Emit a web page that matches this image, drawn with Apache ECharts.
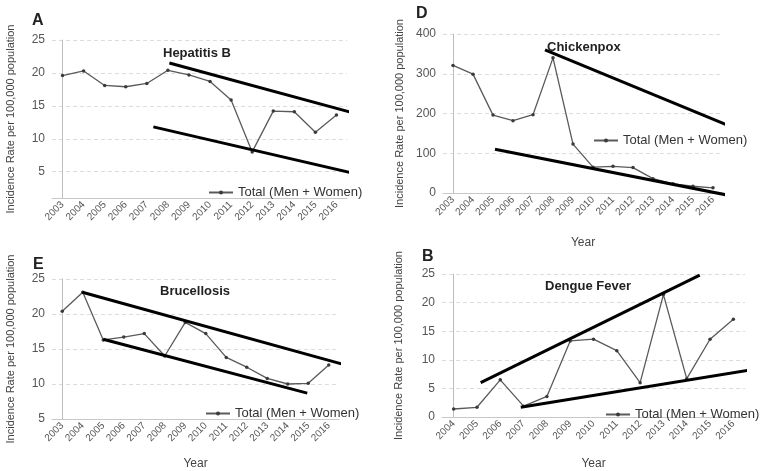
<!DOCTYPE html>
<html><head><meta charset="utf-8">
<script src="https://cdn.jsdelivr.net/npm/echarts@6/dist/echarts.min.js"></script>
<style>html,body{margin:0;padding:0;background:#fff}#c{width:780px;height:471px}</style>
</head><body><div id="c"></div>
<script>
const yearsAll = ['2003','2004','2005','2006','2007','2008','2009','2010','2011','2012','2013','2014','2015','2016'];
const yearsDengue = ['2004','2005','2006','2007','2008','2009','2010','2011','2012','2013','2014','2015','2016'];
const hepatitisB = [19.6,20.3,18.1,17.9,18.4,20.4,19.7,18.7,15.9,8.0,14.2,14.1,11.0,13.6];
const chickenpox = [321,299,196,182,197,340,123,65,67,64,36,23,17,13];
const brucellosis = [20.4,23.1,16.3,16.7,17.2,14.0,18.8,17.2,13.8,12.4,10.8,10.0,10.1,12.7];
const dengue = [1.4,1.7,6.5,1.9,3.6,13.3,13.6,11.6,6.0,21.4,6.7,13.6,17.1];
// trend lines: [category index, value]
const trendAUpper = [[5.07,21.5],[14.64,13.2]];
const trendALower = [[4.31,11.8],[14.27,4.4]];
const trendDUpper = [[4.6,360],[15.7,130]];
const trendDLower = [[2.1,110],[14.45,-12.5]];
const trendEUpper = [[0.98,23.1],[14.34,12.3]];
const trendELower = [[2.0,16.4],[11.95,8.7]];
const trendBUpper = [[1.16,6.0],[10.56,24.8]];
const trendBLower = [[2.88,1.7],[13.9,9.0]];
const ticksA = [5,10,15,20,25];
const ticksD = [0,100,200,300,400];
const ticksE = [5,10,15,20,25];
const ticksB = [0,5,10,15,20,25];
const seriesName = 'Total (Men + Women)';

const FONT = 'Liberation Sans, Arial, sans-serif';
const chart = echarts.init(document.getElementById('c'));

const grids = [
  {left:52, width:295, top:40, height:158},
  {left:443, width:280, top:34, height:159},
  {left:52, width:287, top:279, height:146},
  {left:442, width:303, top:274, height:149}
];
const cats = [yearsAll, yearsAll, yearsAll, yearsDengue];
const yRanges = [[1,25,ticksA],[0,400,ticksD],[5,25,ticksE],[0,25,ticksB]];
const yearGap = [null, 44, 39, 41];
const vals = [hepatitisB, chickenpox, brucellosis, dengue];
const trends = [[trendAUpper,trendALower],[trendDUpper,trendDLower],[trendEUpper,trendELower],[trendBUpper,trendBLower]];

const xAxis = [], yAxis = [], series = [];
grids.forEach((g,i)=>{
  xAxis.push({
    type:'category', gridIndex:i, data:cats[i], boundaryGap:true,
    name: yearGap[i] ? 'Year' : '', nameLocation:'middle', nameGap: yearGap[i] || 0,
    nameTextStyle:{fontFamily:FONT, fontSize:12, color:'#444'},
    axisLine:{lineStyle:{color:'#c8c8c8', width:1}},
    axisTick:{alignWithLabel:true, length:3, lineStyle:{color:'#c8c8c8'}},
    axisLabel:{rotate:45, fontFamily:FONT, fontSize:10, color:'#555', margin:5, interval:0}
  });
});
grids.forEach((g,i)=>{
  const n = cats[i].length;
  xAxis.push({type:'value', gridIndex:i, min:-0.5, max:n-0.5, show:false, splitLine:{show:false}});
});
grids.forEach((g,i)=>{
  const r = yRanges[i];
  yAxis.push({
    type:'value', gridIndex:i, min:r[0], max:r[1],
    name:'Incidence Rate per 100,000 population', nameLocation:'middle', nameGap: i%2===0 ? 36 : 38,
    nameTextStyle:{fontFamily:FONT, fontSize:11, color:'#444'},
    axisLine:{show:true, lineStyle:{color:'#bdbdbd'}},
    axisTick:{show:false, customValues:r[2]},
    axisLabel:{fontFamily:FONT, fontSize:12, color:'#555', margin:7, customValues:r[2]},
    splitLine:{show:true, lineStyle:{color:'#dcdcdc', type:[4,3], width:1}}
  });
});
grids.forEach((g,i)=>{
  series.push({
    name:seriesName, type:'line', xAxisIndex:i, yAxisIndex:i, data:vals[i],
    symbol:'circle', symbolSize:3.5, itemStyle:{color:'#3a3a3a'},
    lineStyle:{color:'#5a5a5a', width:1.3}, z:3
  });
  trends[i].forEach((t,k)=>{
    series.push({
      name:'trend'+i+k, type:'line', xAxisIndex:4+i, yAxisIndex:i, data:t,
      symbol:'none', clip:false, lineStyle:{color:'#000', width:3}, z:4, silent:true
    });
  });
});

const legendPos = [[203,181],[588,129],[200,402],[600,403]];
const legend = legendPos.map((p,i)=>({
  data:[seriesName], left:p[0], top:p[1], itemWidth:24, itemHeight:5, itemGap:5,
  textStyle:{fontFamily:FONT, fontSize:13, color:'#333'}, selectedMode:false
}));

const titles = [
  {text:'Hepatitis B', left:163, top:47},
  {text:'Chickenpox', left:547, top:41},
  {text:'Brucellosis', left:160, top:285},
  {text:'Dengue Fever', left:545, top:280},
  {text:'A', left:32, top:13, big:true},
  {text:'D', left:416, top:6, big:true},
  {text:'E', left:33, top:257, big:true},
  {text:'B', left:422, top:249, big:true}
].map(t=>({
  text:t.text, left:t.left, top:t.top, padding:0,
  textStyle:{fontFamily:FONT, fontWeight:'bold', fontSize:t.big?16:13, color:'#222'}
}));

chart.setOption({
  animation:false,
  backgroundColor:'#fff',
  title:titles,
  legend:legend,
  grid:grids,
  xAxis:xAxis,
  yAxis:yAxis,
  series:series
});
</script></body></html>
